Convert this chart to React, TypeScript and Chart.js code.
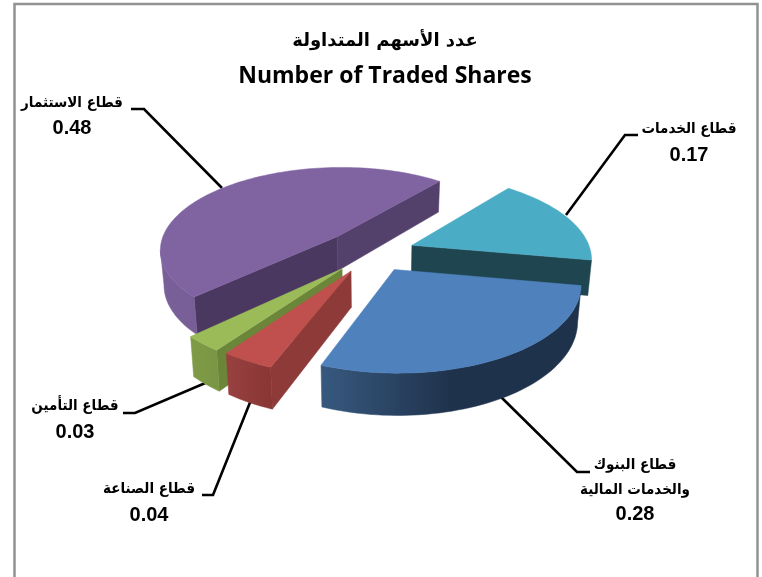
import React, { useEffect, useRef } from "react";
import { Chart, registerables } from "chart.js";

Chart.register(...registerables);

const categories = ["قطاع الخدمات", "قطاع البنوك|والخدمات المالية", "قطاع الصناعة", "قطاع التأمين", "قطاع الاستثمار"];
const values = [0.17, 0.28, 0.04, 0.03, 0.48];
const titleArabic = "عدد الأسهم المتداولة";
const titleEnglish = "Number of Traded Shares";

const topColors = ["#4BACC6", "#4F81BD", "#C0504D", "#9BBB59", "#8064A2"];
const startWall = ["#54416B", "#1F344F", "#8E3A38", "#6B8539", "#4A3860"];
const endWall = ["#1F4650", "#1F344F", "#8E3A38", "#6B8539", "#54416B"];
const outerFrom = ["#1F4650", "#37597F", "#984240", "#7F9B47", "#7A6099"];
const outerTo = ["#1F4650", "#1F324C", "#893635", "#7A9644", "#64507F"];
const offsets = [168, 168, 180, 184, 200];
const paintOrder = [4, 0, 3, 2, 1];

const labelBoxes = [
  { x: 689, y: 129, gap: 27, line: [[638, 135], [625, 135], [566, 215]] },
  { x: 635, y: 465, gap: 25, line: [[590, 472], [577, 472], [500, 396]] },
  { x: 149, y: 489, gap: 27, line: [[202, 495], [213, 495], [251, 400]] },
  { x: 75, y: 406, gap: 27, line: [[123, 413], [135, 413], [210, 381]] },
  { x: 72, y: 103, gap: 26, line: [[131, 109], [144, 109], [222, 188]] },
];

const view = { ax: 373, ay: 252, k: 0.465, q: 0.0008, depth: 35, converge: 0.017 };

const pie3d = {
  id: "pie3d",
  beforeDraw(chart: any) {
    const { ctx } = chart;
    ctx.save();
    ctx.fillStyle = "#fff";
    ctx.fillRect(0, 0, chart.width, chart.height);
    ctx.strokeStyle = "#929292";
    ctx.lineWidth = 2.5;
    ctx.strokeRect(14.5, 4, 743, 640);
    ctx.restore();
  },
  beforeDatasetsDraw(chart: any) {
    const { ctx } = chart;
    const arcs = chart.getDatasetMeta(0).data;

    ctx.save();
    ctx.strokeStyle = "#000";
    ctx.lineWidth = 2.6;
    ctx.lineJoin = "miter";
    labelBoxes.forEach((b) => {
      ctx.beginPath();
      b.line.forEach((p, i) => (i ? ctx.lineTo(p[0], p[1]) : ctx.moveTo(p[0], p[1])));
      ctx.stroke();
    });

    const project = (X: number, Y: number) => {
      const g = 1 / (1 - view.q * Y);
      return { x: view.ax + X * g, y: view.ay + view.k * Y * g, g };
    };
    const drop = (p: any) => ({
      x: view.ax + (p.x - view.ax) * (1 - view.converge),
      y: p.y + view.depth * p.g,
    });
    const fill = (pts: any[], color: any) => {
      ctx.beginPath();
      pts.forEach((p, i) => (i ? ctx.lineTo(p.x, p.y) : ctx.moveTo(p.x, p.y)));
      ctx.closePath();
      ctx.fillStyle = color;
      ctx.strokeStyle = color;
      ctx.lineWidth = 0.5;
      ctx.fill();
      ctx.stroke();
    };

    paintOrder.forEach((i) => {
      const arc = arcs[i];
      const { startAngle, endAngle, outerRadius } = arc;
      const mid = (startAngle + endAngle) / 2;
      const off = (arc.options.offset || 0) / 4;
      const ox = Math.cos(mid) * off;
      const oy = Math.sin(mid) * off;
      const apex = project(ox, oy);
      const rim: any[] = [];
      const steps = Math.ceil((endAngle - startAngle) / 0.03);
      for (let s = 0; s <= steps; s++) {
        const a = startAngle + ((endAngle - startAngle) * s) / steps;
        rim.push(project(ox + Math.cos(a) * outerRadius, oy + Math.sin(a) * outerRadius));
      }
      const first = rim[0];
      const last = rim[rim.length - 1];
      if (first.x < apex.x) fill([apex, first, drop(first), drop(apex)], startWall[i]);
      if (apex.x < last.x) fill([apex, last, drop(last), drop(apex)], endWall[i]);
      const xs = rim.map((p) => p.x);
      const grad = ctx.createLinearGradient(Math.min(...xs), 0, Math.max(...xs), 0);
      grad.addColorStop(0, outerFrom[i]);
      grad.addColorStop(i === 1 ? 0.5 : 1, outerTo[i]);
      if (i === 1) grad.addColorStop(1, outerTo[i]);
      const front = rim.filter((p, s) => (s + 1 < rim.length && rim[s + 1].x < p.x) || (s > 0 && p.x < rim[s - 1].x));
      if (front.length > 1) fill([...front, ...front.map(drop).reverse()], grad);
      fill([apex, ...rim], topColors[i]);
    });

    ctx.fillStyle = "#000";
    ctx.textAlign = "center";
    ctx.textBaseline = "middle";
    categories.forEach((name, i) => {
      const b = labelBoxes[i];
      const lines = name.split("|");
      ctx.font = 'bold 15px "DejaVu Sans", "Liberation Sans"';
      lines.forEach((t, j) => {
        ctx.save();
        ctx.translate(b.x, b.y + j * b.gap);
        ctx.scale(0.9, 1);
        ctx.fillText(t, 0, 0);
        ctx.restore();
      });
      ctx.font = 'bold 20px "Liberation Sans", Arial';
      ctx.fillText(values[i].toFixed(2), b.x, b.y - 1 + lines.length * b.gap);
    });
    ctx.restore();
    return false;
  },
};

export default function App() {
  const ref = useRef<HTMLCanvasElement | null>(null);
  useEffect(() => {
    document.body.style.margin = "0";
    const chart = new Chart(ref.current as HTMLCanvasElement, {
      type: "pie",
      data: {
        labels: categories.map((c) => c.replace("|", " ")),
        datasets: [{ data: values, backgroundColor: topColors, borderWidth: 0, offset: offsets }],
      },
      options: {
        animation: false,
        responsive: false,
        rotation: 39,
        radius: 179,
        layout: { padding: { left: 8, top: 31, bottom: 0, right: 0 } },
        plugins: {
          legend: { display: false },
          tooltip: { enabled: false },
          title: {
            display: true,
            text: titleArabic,
            color: "#000",
            font: { family: '"DejaVu Sans", "Liberation Sans"', size: 18, weight: "bold" },
            padding: { top: 0, bottom: 10 },
          },
          subtitle: {
            display: true,
            text: titleEnglish,
            color: "#000",
            font: { family: '"Open Sans", Lato', size: 23, weight: "bold" },
            padding: { top: 0, bottom: 0 },
          },
        },
      },
      plugins: [pie3d],
    } as any);
    return () => chart.destroy();
  }, []);
  return <canvas ref={ref} width={762} height={577} style={{ display: "block" }} />;
}
